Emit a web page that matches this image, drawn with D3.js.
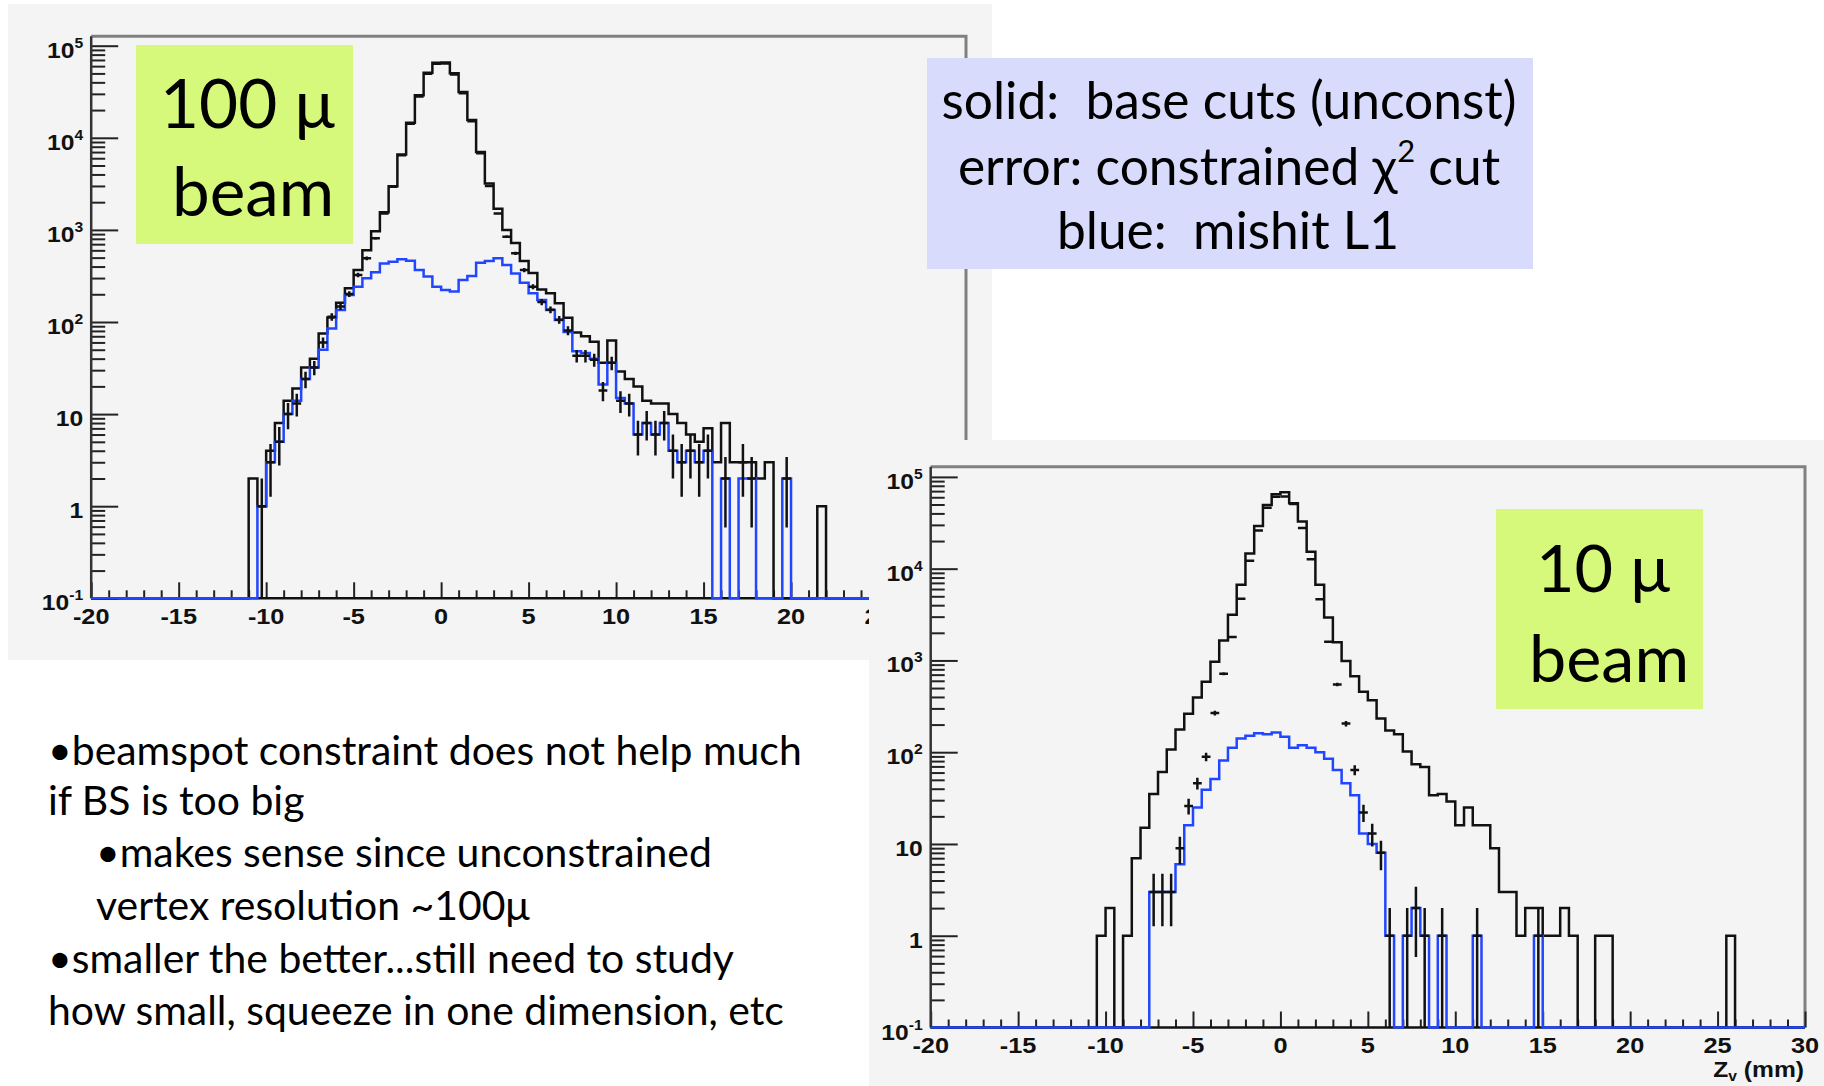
<!DOCTYPE html>
<html><head><meta charset="utf-8">
<script src="https://cdn.jsdelivr.net/npm/d3@7/dist/d3.min.js"></script>
<style>
html,body{margin:0;padding:0;background:#fff;}
svg{display:block;}
text{white-space:pre;}
</style></head>
<body><svg id="chart" width="1824" height="1086"></svg>
<script>
// ---------------- data (0.5 mm bins, each array starts at the given lower bin edge) ----------------
const BIN = 0.5, X_MIN = -20, X_MAX = 30;

// 100 micron beam
const p1BlackStart = -11;
const p1Black = [2,1,4,8,14,19,32,40,75,112,162,232,366,603,968,1550,2980,6600,14600,28900,50800,65200,65800,50100,31400,15600,7000,3200,1700,1000,720,460,340,226,205,160,111,77,70,61,36,63,29,24,20,14,13,13,10,8,6,5,7,3,8,3,3,3,2,3,0,0,0,0,0,1];
const p1BlueStart = -10.5;
const p1Blue = [1,3,5,10,14,24,32,50,85,135,196,242,298,346,433,452,480,463,367,311,242,223,214,286,316,441,460,491,416,337,267,205,173,135,105,78,48,46,40,21,36,15,13,6,8,6,8,4,3,4,3,4,0,2,0,2,2,0,0,0,2];
const p1ErrStart = -10.5;
const p1Err = [1,3,5,10,13,24,32,60,114,147,201,324,491,811,1510,2950,6450,14200,28000,49500,63500,64000,48800,30500,15100,6800,3000,1510,845,557,367,242,165,136,106,81,43,43,39,18,36,14,13,6,8,6,8,4,3,4,3,4,0,2,0,3,2,0,0,0,2];

// 10 micron beam
const p2BlackStart = -10.5;
const p2Black = [1,2,0,1,7,15,35,61,107,177,263,394,585,970,1650,3150,6700,14600,29200,49300,64900,68000,51600,32600,15300,6700,2930,1580,988,671,456,369,233,172,157,102,74,69,34,35,29,16,25,16,16,9,3,3,1,2,2,1,1,2,1,0,0,1,1,0,0,0,0,0,0,0,0,0,0,0,0,0,1];
const p2BlueStart = -7.5;
const p2Blue = [3,3,3,6,16,25,39,51,81,112,141,151,161,157,164,147,112,119,112,100,85,64,46,34,13,10,8,1,0,1,2,1,0,1,0,0,0,1,0,0,0,0,0,0,1];
const p2ErrStart = -7.5;
const p2Err = [3,3,3,9,26,46,89,267,716,1800,4700,12200,26000,46200,60800,61000,50700,27800,12700,4650,1600,548,205,64,22,13,8,1,0,1,2,1,0,1,0,0,0,1,0,0,0,0,0,0,1];

const xTickValues = [-20,-15,-10,-5,0,5,10,15,20,25,30];
const xTickLabels = ["-20","-15","-10","-5","0","5","10","15","20","25","30"];
const yTickValues = [0.1,1,10,100,1000,10000,100000];
const yTickLabels = [["10","-1"],["1",""],["10",""],["10","2"],["10","3"],["10","4"],["10","5"]];

const box1Lines = ["100 μ","beam"];
const box2Lines = ["10 μ","beam"];
const legendLines = [["solid:  base cuts (unconst)"],["error: constrained χ","2"," cut"],["blue:  mishit L1"]];
const bulletLines = ["•beamspot constraint does not help much","if BS is too big","•makes sense since unconstrained","vertex resolution ~100μ","•smaller the better...still need to study","how small, squeeze in one dimension, etc"];

// ---------------- drawing ----------------
const svg = d3.select("#chart");
const SLIDE_FONT = "Lato, 'Open Sans', sans-serif";
const ROOT_FONT = "'Liberation Sans', Arial, Helvetica, sans-serif";

function fullBins(start, vals) {
  const n = Math.round((X_MAX - X_MIN) / BIN);
  const out = [];
  for (let i = 0; i < n; i++) {
    const lo = X_MIN + i * BIN;
    const k = Math.round((lo - start) / BIN);
    out.push({lo: lo, hi: lo + BIN, v: (k >= 0 && k < vals.length) ? vals[k] : 0});
  }
  return out;
}

function fitGroup(nodes, targets, base) {
  let m = 0, t = 0;
  nodes.forEach((n, i) => { m += n.getComputedTextLength(); t += targets[i]; });
  const fs = base * t / m;
  nodes.forEach(n => d3.select(n).attr("font-size", fs));
}

function drawPlot(cfg) {
  const g = svg.append("g");
  const P = cfg.panel;
  g.append("rect").attr("x", P[0]).attr("y", P[1]).attr("width", P[2] - P[0]).attr("height", P[3] - P[1]).attr("fill", "#f4f4f4");

  const x = d3.scaleLinear().domain([X_MIN, X_MAX]).range([cfg.left, cfg.right]);
  const y = d3.scaleLog().domain([0.1, 1e5]).range([cfg.bottom, cfg.y5]);
  const FLOOR = 0.1;

  // frame top & right
  g.append("path").attr("d", `M${cfg.left},${cfg.top}H${cfg.right}V${cfg.bottom}`)
    .attr("fill", "none").attr("stroke", "#808080").attr("stroke-width", 3);

  // ticks (inward)
  const yMinor = [];
  for (let d = -1; d < 5; d++) for (let k = 2; k <= 9; k++) yMinor.push(k * Math.pow(10, d));
  const xMinor = d3.range(X_MIN, X_MAX + 0.001, 1).filter(v => v % 5 !== 0);
  const tickStyle = sel => { sel.select(".domain").remove(); sel.selectAll("line").attr("stroke", "#222").attr("stroke-width", 2); sel.selectAll("text").remove(); };
  g.append("g").attr("transform", `translate(${cfg.left},0)`).call(d3.axisRight(y).tickValues(yTickValues).tickSize(27).tickFormat("")).call(tickStyle);
  g.append("g").attr("transform", `translate(${cfg.left},0)`).call(d3.axisRight(y).tickValues(yMinor).tickSize(14).tickFormat("")).call(tickStyle);
  g.append("g").attr("transform", `translate(0,${cfg.bottom})`).call(d3.axisTop(x).tickValues(xTickValues).tickSize(16).tickFormat("")).call(tickStyle);
  g.append("g").attr("transform", `translate(0,${cfg.bottom})`).call(d3.axisTop(x).tickValues(xMinor).tickSize(8).tickFormat("")).call(tickStyle);

  // axis lines
  g.append("line").attr("x1", cfg.left).attr("x2", cfg.left).attr("y1", cfg.top).attr("y2", cfg.bottom).attr("stroke", "#333").attr("stroke-width", 2.5);
  g.append("line").attr("x1", cfg.left).attr("x2", cfg.right).attr("y1", cfg.bottom).attr("y2", cfg.bottom).attr("stroke", "#111").attr("stroke-width", 2.5);

  // histograms
  const line = d3.line().x(d => x(d[0])).y(d => y(d[1] > 0 ? d[1] : FLOOR)).curve(d3.curveStepAfter);
  function hist(start, vals, color) {
    const b = fullBins(start, vals);
    const pts = b.map(d => [d.lo, d.v]);
    pts.push([X_MAX, b[b.length - 1].v]);
    g.append("path").attr("d", line(pts)).attr("fill", "none").attr("stroke", color).attr("stroke-width", 2.5);
  }
  hist(cfg.blackStart, cfg.black, "#111");
  hist(cfg.blueStart, cfg.blue, "#2146ff");

  // error bars (constrained chi2 cut)
  const eb = fullBins(cfg.errStart, cfg.err).filter(d => d.v > 0);
  const eg = g.append("g").attr("stroke", "#111").attr("stroke-width", 2.5).attr("fill", "none");
  eg.selectAll("path").data(eb).join("path").attr("d", d => {
    const e = Math.sqrt(d.v);
    const lo = d.v - e > FLOOR ? d.v - e : FLOOR;
    const xm = x((d.lo + d.hi) / 2);
    return `M${xm},${y(d.v + e)}V${y(lo)}M${x(d.lo)},${y(d.v)}H${x(d.hi)}`;
  });

  // tick labels
  const lg = g.append("g").attr("font-family", ROOT_FONT).attr("font-weight", "bold").attr("fill", "#111");
  xTickValues.forEach((v, i) => {
    lg.append("text").attr("transform", `translate(${x(v)},${cfg.xLabelY}) scale(1.15,1)`)
      .attr("text-anchor", "middle").attr("font-size", 22).text(xTickLabels[i]);
  });
  yTickValues.forEach((v, i) => {
    const t = lg.append("text").attr("transform", `translate(${cfg.left - 8},${y(v) + 12}) scale(1.12,1)`)
      .attr("text-anchor", "end").attr("font-size", 22);
    t.append("tspan").text(yTickLabels[i][0]);
    if (yTickLabels[i][1]) t.append("tspan").attr("font-size", 14).attr("dy", -10).text(yTickLabels[i][1]);
  });

  // beam-size label box
  const B = cfg.box;
  g.append("rect").attr("x", B[0]).attr("y", B[1]).attr("width", B[2] - B[0]).attr("height", B[3] - B[1]).attr("fill", "#d6f97b");
  const bn = cfg.boxLines.map((s, i) => g.append("text").attr("x", cfg.boxText[i][0]).attr("y", cfg.boxText[i][1])
    .attr("font-family", SLIDE_FONT).attr("font-size", 60).attr("fill", "#000").text(s).node());
  fitGroup(bn, cfg.boxText.map(d => d[2]), 60);
  return {g, x, y};
}

// plot 1 (100 μ beam)
drawPlot({
  panel: [8, 4, 992, 660], left: 91.2, right: 966, top: 36.3, bottom: 598.3, y5: 45.7, xLabelY: 624,
  blackStart: p1BlackStart, black: p1Black, blueStart: p1BlueStart, blue: p1Blue, errStart: p1ErrStart, err: p1Err,
  box: [136, 45, 353, 244], boxLines: box1Lines, boxText: [[160, 128, 174], [172, 216, 163]]
});

// legend box
const leg = svg.append("g");
leg.append("rect").attr("x", 927).attr("y", 58).attr("width", 606).attr("height", 211).attr("fill", "#d8dbfb");
const legPos = [[1229, 119, 568], [1229, 185, 560], [1228, 249, 332]];
const legNodes = legendLines.map((parts, i) => {
  const t = leg.append("text").attr("x", legPos[i][0]).attr("y", legPos[i][1]).attr("text-anchor", "middle")
    .attr("font-family", SLIDE_FONT).attr("font-size", 44).attr("fill", "#000");
  t.append("tspan").text(parts[0]);
  if (parts.length > 1) {
    t.append("tspan").attr("font-size", "0.6em").attr("dy", "-0.75em").text(parts[1]);
    t.append("tspan").attr("dy", "0.45em").text(parts[2]);
  }
  return t.node();
});
fitGroup(legNodes, legPos.map(d => d[2]), 44);

// bullet text
const bulPos = [[48, 765, 754], [48, 815, 256], [96, 867, 612], [96, 920, 442], [48, 973, 687], [48, 1025, 731]];
const bulNodes = bulletLines.map((s, i) => svg.append("text").attr("x", bulPos[i][0]).attr("y", bulPos[i][1])
  .attr("font-family", SLIDE_FONT).attr("font-size", 36).attr("fill", "#000").text(s).node());
fitGroup(bulNodes, bulPos.map(d => d[2]), 36);

// plot 2 (10 μ beam)
const p2 = drawPlot({
  panel: [869, 440, 1824, 1086], left: 930.7, right: 1805, top: 466.8, bottom: 1027.5, y5: 476.9, xLabelY: 1053,
  blackStart: p2BlackStart, black: p2Black, blueStart: p2BlueStart, blue: p2Blue, errStart: p2ErrStart, err: p2Err,
  box: [1496, 509, 1703, 709], boxLines: box2Lines, boxText: [[1536, 592, 132], [1529, 682, 162]]
});
const xt = p2.g.append("text").attr("transform", "translate(1804,1077) scale(1.12,1)").attr("text-anchor", "end")
  .attr("font-family", ROOT_FONT).attr("font-weight", "bold").attr("font-size", 22).attr("fill", "#111");
xt.append("tspan").text("Z");
xt.append("tspan").attr("font-size", 14).attr("dy", 4).text("v");
xt.append("tspan").attr("dy", -4).text(" (mm)");
</script>
</body></html>
